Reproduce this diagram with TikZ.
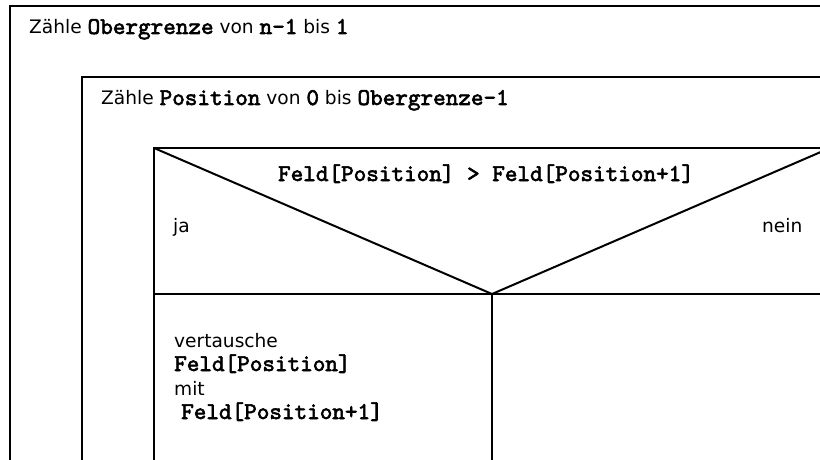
\documentclass[tikz,border=0pt]{standalone}
\usepackage{fontspec}
\setmainfont{DejaVu Sans}
\newfontfamily\codefont[FakeBold=2.5]{lmmono10-regular.otf}
\usetikzlibrary{positioning}
\tikzstyle{frame} = [draw, line width=2pt]
\tikzstyle{plain} = [inner sep=0pt, anchor=base west,
font=\fontsize{18.6}{24}\selectfont]
\newcommand{\code}[1]{{\codefont\fontsize{24}{24}\selectfont #1}}

\begin{document}
\begin{tikzpicture}[x=1pt, y=-1pt]
\useasboundingbox (0,0) rectangle (820,460);
\clip (0,0) rectangle (820,460);
% Corners of the blocks
\coordinate (outer) at (10,6);
\coordinate (outerfoot) at (10,470);
\coordinate (outerend) at (830,6);
\coordinate (inner) at (82,77);
\coordinate (innerfoot) at (82,470);
\coordinate (innerend) at (830,77);
\coordinate (cond) at (154,148);
\coordinate (condfoot) at (154,470);
\coordinate (condend) at (830,148);
\coordinate (tip) at (492,294);
\coordinate (rowend) at (830,294);

% Place texts
\node [plain] (n1) at (29,34) {Zähle \code{Obergrenze} von \code{n-1} bis \code{1}};
\node [plain] (n2) at (101,105) {Zähle \code{Position} von \code{0} bis \code{Obergrenze-1}};
\node [plain, anchor=base] (n3) at (486,181) {\code{Feld[Position] > Feld[Position+1]}};
\node [plain] (n4) at (173,232) {ja};
\node [plain] (n5) at (762,232) {nein};
\node [plain, align=left] (n6) at (174,419) {vertausche\\\code{Feld[Position]}\\mit\\\hspace*{7pt}\code{Feld[Position+1]}};

% Draw blocks
\draw [frame] (outerfoot) |- (outerend);
\draw [frame] (innerfoot) |- (innerend);
\draw [frame] (condfoot) |- (condend);
\draw [frame] (cond) -- (tip) -- (condend);
\draw [frame] (cond |- tip) -- (rowend);
\draw [frame] (tip) -- (tip |- condfoot);
\end{tikzpicture}
\end{document}
